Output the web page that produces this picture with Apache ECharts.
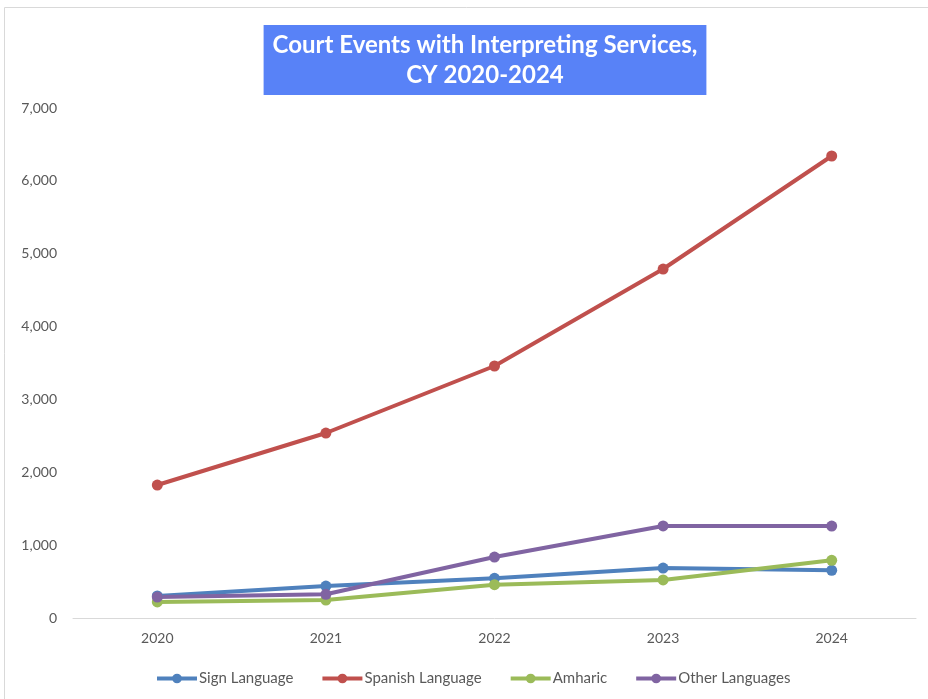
<!DOCTYPE html>
<html>
<head>
<meta charset="utf-8">
<script src="https://cdn.jsdelivr.net/npm/echarts@6/dist/echarts.min.js"></script>
<style>
  html, body { margin: 0; padding: 0; background: #fff; }
  #chart { width: 928px; height: 699px; }
</style>
</head>
<body>
<div id="chart"></div>
<script>
// data
var years = ['2020', '2021', '2022', '2023', '2024']
var signLanguage = [302, 439, 545, 686, 655]
var spanishLanguage = [1825, 2539, 3459, 4790, 6341]
var amharic = [220, 247, 457, 522, 792]
var otherLanguages = [288, 325, 837, 1263, 1262]

var seriesNames = ['Sign Language', 'Spanish Language', 'Amharic', 'Other Languages']
var seriesColors = ['#4F81BD', '#C0504D', '#9BBB59', '#8064A2']
var seriesData = [signLanguage, spanishLanguage, amharic, otherLanguages]

var chart = echarts.init(document.getElementById('chart'))

chart.setOption({
  animation: false,
  title: {
    text: 'Court Events with Interpreting Services,\nCY 2020-2024',
    left: 476,
    top: 25,
    textAlign: 'center',
    backgroundColor: '#5882F7',
    padding: [5, 9, 5, 9],
    textStyle: {
      color: '#fff',
      fontFamily: 'Lato',
      fontWeight: 'bold',
      fontSize: 24,
      lineHeight: 30
    }
  },
  graphic: [{
    type: 'rect',
    shape: { x: 4.5, y: 7.5, width: 940, height: 710 },
    style: { fill: 'none', stroke: '#D9D9D9', lineWidth: 1 },
    silent: true
  }],
  legend: {
    bottom: 8,
    left: 150,
    itemWidth: 40,
    itemHeight: 12,
    itemGap: 27,
    lineStyle: { width: 4 },
    textStyle: { color: '#595959', fontSize: 15, fontFamily: 'Lato', padding: [0, 0, 0, -3] },
    data: seriesNames
  },
  grid: { left: 73, right: 12, top: 108, bottom: 81 },
  xAxis: {
    type: 'category',
    data: years,
    axisLine: { lineStyle: { color: '#D9D9D9', width: 1 } },
    axisTick: { show: false },
    axisLabel: { color: '#595959', fontSize: 14, fontFamily: 'Lato', margin: 13 }
  },
  yAxis: {
    type: 'value',
    min: 0,
    max: 7000,
    interval: 1000,
    axisLine: { show: false },
    axisTick: { show: false },
    splitLine: { show: false },
    axisLabel: {
      color: '#595959',
      fontSize: 14,
      fontFamily: 'Lato',
      margin: 16,
      formatter: function (v) { return v.toLocaleString('en-US') }
    }
  },
  series: seriesNames.map(function (name, i) {
    return {
      name: name,
      type: 'line',
      data: seriesData[i],
      color: seriesColors[i],
      symbol: 'circle',
      symbolSize: 11,
      lineStyle: { width: 4 }
    }
  })
})
</script>
</body>
</html>
